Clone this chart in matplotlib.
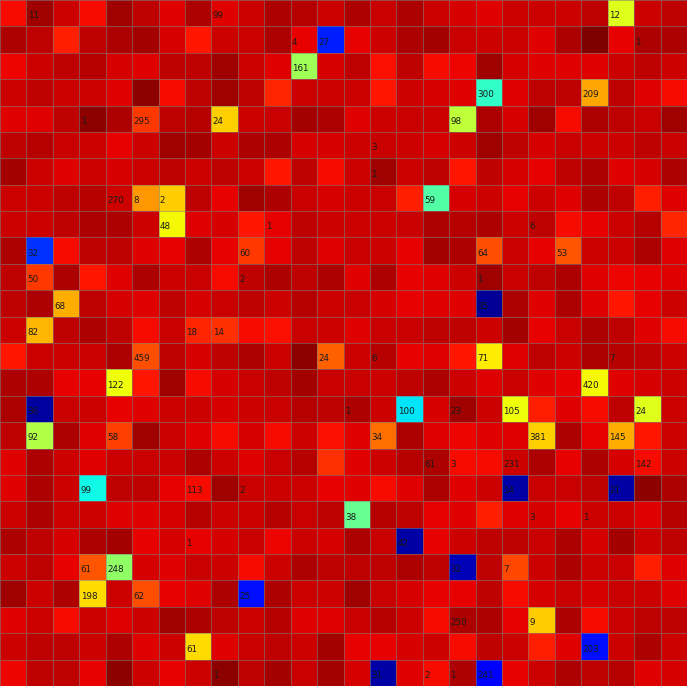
import numpy as np
import matplotlib
matplotlib.use("Agg")
import matplotlib.pyplot as plt

# colour value of each cell (0-100 on the jet scale), row by row from the top
grid_values = [
    [89.5, 97.2, 93.0, 89.5, 97.2, 94.4, 91.7, 95.8, 91.7, 93.0, 95.8, 95.1, 93.0, 95.8, 93.7, 95.8, 93.0, 92.4, 91.7, 93.0, 93.0, 93.0, 94.4, 62.0, 93.0, 94.4],
    [95.8, 94.4, 87.6, 94.4, 95.8, 96.5, 92.4, 88.5, 93.0, 93.0, 95.8, 91.0, 15.6, 91.0, 93.0, 95.8, 96.5, 93.7, 93.0, 93.0, 91.7, 95.8, 100.0, 91.0, 95.8, 95.8],
    [90.3, 93.0, 94.4, 95.1, 92.4, 91.7, 94.4, 94.4, 97.2, 93.0, 91.7, 54.4, 92.4, 94.4, 89.3, 94.4, 89.5, 90.3, 97.2, 92.4, 91.7, 91.7, 91.7, 93.0, 94.4, 93.0],
    [93.0, 94.4, 93.0, 93.0, 91.7, 98.6, 89.5, 94.4, 97.2, 94.4, 87.0, 93.0, 93.0, 93.0, 88.5, 93.0, 92.4, 91.7, 40.9, 91.7, 94.4, 94.4, 73.2, 94.4, 91.7, 89.5],
    [91.7, 91.7, 94.4, 98.6, 95.8, 85.1, 94.4, 95.1, 69.0, 93.0, 93.7, 96.5, 95.8, 91.7, 93.0, 93.7, 93.0, 58.0, 95.8, 92.4, 97.2, 89.5, 95.8, 94.4, 93.7, 97.2],
    [94.4, 95.1, 93.7, 93.0, 91.0, 93.0, 97.2, 96.5, 93.0, 95.8, 95.8, 92.4, 92.4, 93.0, 93.7, 93.0, 92.4, 93.0, 97.2, 94.4, 92.4, 93.7, 93.0, 93.0, 94.4, 93.7],
    [96.5, 93.0, 91.7, 93.0, 92.4, 93.0, 94.4, 93.0, 94.4, 93.0, 88.5, 94.4, 89.5, 93.0, 97.2, 93.0, 94.4, 88.5, 94.4, 92.4, 91.0, 94.4, 95.8, 91.7, 92.4, 95.8],
    [93.0, 93.0, 94.4, 95.1, 93.0, 74.8, 69.4, 94.4, 91.0, 97.2, 95.8, 93.7, 92.4, 93.0, 93.7, 87.6, 45.3, 92.4, 93.0, 91.0, 93.0, 91.7, 95.8, 94.4, 87.6, 91.7],
    [93.0, 93.0, 94.4, 95.8, 95.8, 93.0, 64.5, 91.7, 92.4, 88.5, 91.0, 94.4, 93.0, 93.0, 93.0, 93.7, 95.8, 95.1, 95.8, 93.0, 94.4, 89.5, 91.0, 93.0, 95.1, 87.0],
    [95.8, 17.2, 89.5, 94.4, 94.4, 91.7, 91.0, 95.8, 91.0, 85.1, 91.0, 94.4, 91.7, 93.7, 93.0, 91.0, 96.5, 95.8, 82.5, 93.7, 91.0, 81.7, 93.0, 93.0, 95.8, 91.7],
    [94.4, 85.1, 95.8, 88.5, 91.7, 95.8, 93.0, 93.7, 89.5, 94.4, 95.8, 94.4, 95.8, 91.7, 95.8, 91.0, 91.7, 93.0, 97.2, 93.7, 94.4, 95.8, 91.7, 90.3, 91.0, 91.7],
    [94.4, 95.8, 72.4, 94.4, 92.4, 91.7, 94.4, 92.4, 93.7, 94.4, 93.0, 95.1, 93.0, 93.7, 92.4, 91.0, 91.7, 91.7, 2.2, 95.8, 91.7, 95.8, 91.7, 88.5, 91.0, 93.0],
    [93.0, 71.5, 94.4, 95.8, 94.4, 89.5, 93.7, 87.0, 85.9, 89.5, 89.3, 93.7, 93.0, 91.7, 93.7, 93.7, 94.4, 94.4, 93.0, 96.5, 91.0, 93.7, 95.8, 94.4, 91.7, 89.5],
    [88.5, 93.0, 93.0, 93.7, 95.8, 82.5, 94.4, 92.4, 94.4, 95.8, 93.0, 98.6, 80.8, 93.0, 95.1, 91.0, 91.7, 88.5, 66.0, 91.7, 94.4, 93.0, 95.8, 95.1, 94.4, 93.0],
    [95.8, 95.8, 91.0, 91.0, 64.0, 88.5, 97.2, 89.5, 92.4, 93.7, 94.4, 96.5, 93.7, 93.7, 93.0, 94.4, 95.8, 93.0, 91.7, 93.7, 91.7, 91.0, 64.5, 91.7, 92.4, 93.0],
    [95.8, 2.8, 93.7, 93.0, 91.0, 91.7, 93.0, 93.0, 92.4, 93.0, 93.7, 95.1, 94.4, 95.8, 93.0, 35.0, 92.4, 97.2, 93.0, 64.0, 87.6, 91.7, 89.5, 94.4, 61.9, 93.0],
    [94.4, 56.4, 95.8, 91.7, 84.2, 97.2, 93.7, 91.7, 89.5, 92.4, 89.5, 93.0, 89.3, 91.7, 79.1, 95.8, 91.7, 90.3, 91.7, 91.7, 69.0, 95.8, 91.0, 72.4, 88.5, 93.0],
    [91.7, 95.8, 93.0, 91.7, 93.0, 93.7, 93.7, 95.8, 93.0, 91.7, 93.7, 95.1, 85.9, 91.7, 93.0, 95.1, 95.8, 89.5, 89.5, 93.0, 95.8, 91.0, 95.8, 92.4, 89.5, 93.0],
    [91.7, 95.8, 93.0, 37.0, 94.4, 94.4, 91.0, 89.5, 97.2, 93.7, 93.0, 93.0, 91.0, 91.7, 89.5, 91.7, 95.8, 91.7, 93.0, 3.5, 93.7, 93.7, 94.4, 3.5, 98.6, 95.8],
    [93.0, 95.8, 93.0, 93.0, 91.7, 91.7, 92.4, 95.1, 93.0, 93.0, 95.1, 93.7, 94.4, 47.4, 95.1, 94.4, 91.0, 91.7, 87.6, 91.7, 92.4, 91.0, 93.0, 93.0, 91.7, 95.1],
    [95.8, 94.4, 92.4, 95.8, 96.5, 91.0, 92.4, 91.0, 92.4, 93.7, 90.3, 93.0, 92.4, 95.8, 93.7, 3.5, 91.0, 93.0, 94.4, 94.4, 93.7, 95.8, 92.4, 96.5, 93.0, 94.4],
    [93.0, 94.4, 91.0, 81.7, 52.5, 92.4, 91.7, 93.7, 93.0, 89.5, 93.0, 95.8, 94.4, 94.4, 94.4, 95.8, 94.4, 4.9, 94.4, 83.4, 93.0, 95.8, 93.0, 93.7, 87.6, 91.7],
    [97.2, 93.0, 95.8, 67.6, 93.0, 82.5, 91.0, 91.7, 95.8, 14.0, 95.8, 93.0, 93.0, 97.2, 93.7, 92.4, 91.0, 91.0, 94.4, 89.5, 92.4, 93.7, 92.4, 93.7, 93.0, 91.7],
    [91.7, 93.0, 89.5, 93.0, 91.7, 93.0, 97.2, 95.8, 94.4, 93.0, 95.1, 91.7, 91.7, 93.7, 95.1, 93.0, 89.5, 95.8, 95.8, 91.0, 69.4, 95.8, 89.5, 93.7, 94.4, 94.4],
    [93.0, 94.4, 94.4, 93.0, 95.8, 91.7, 93.0, 67.6, 91.7, 93.7, 94.4, 93.0, 96.5, 91.0, 91.0, 92.4, 93.0, 89.5, 94.4, 93.7, 87.6, 91.7, 14.0, 93.0, 95.8, 93.0],
    [90.3, 94.4, 94.4, 91.0, 98.6, 93.0, 91.0, 93.0, 98.6, 94.4, 96.5, 93.7, 96.5, 92.4, 3.5, 91.7, 89.5, 95.8, 12.0, 91.0, 93.0, 95.8, 94.4, 95.1, 91.7, 92.4],
]

# annotated cells: row, column, label
label_rows = [0, 0, 0, 1, 1, 1, 2, 3, 3, 4, 4, 4, 4, 5, 6, 7, 7, 7, 7, 8, 8, 8,
              9, 9, 9, 9, 10, 10, 10, 11, 11, 12, 12, 12, 13, 13, 13, 13, 13,
              14, 14, 15, 15, 15, 15, 15, 15, 16, 16, 16, 16, 16, 17, 17, 17, 17,
              18, 18, 18, 18, 18, 19, 19, 19, 20, 20, 21, 21, 21, 21, 22, 22, 22,
              23, 23, 24, 24, 25, 25, 25, 25, 25]
label_cols = [1, 8, 23, 11, 12, 24, 11, 18, 22, 3, 5, 8, 17, 14, 14, 4, 5, 6, 16, 6, 10, 20,
              1, 9, 18, 21, 1, 9, 18, 2, 18, 1, 7, 8, 5, 12, 14, 18, 23,
              4, 22, 1, 13, 15, 17, 19, 24, 1, 4, 14, 20, 23, 16, 17, 19, 24,
              3, 7, 9, 19, 23, 13, 20, 22, 7, 15, 3, 4, 17, 19, 3, 5, 9,
              17, 20, 7, 22, 8, 14, 16, 17, 18]
label_text = ["11", "99", "12", "4", "27", "1", "161", "300", "209", "1", "295", "24", "98", "3", "1",
              "270", "8", "2", "59", "48", "1", "6",
              "32", "60", "64", "53", "50", "2", "1", "68", "35", "82", "18", "14",
              "459", "24", "6", "71", "7", "122", "420",
              "36", "1", "100", "23", "105", "24", "92", "58", "34", "381", "145",
              "61", "3", "231", "142", "99", "113", "2", "14", "21", "38", "3", "1",
              "1", "42", "61", "248", "32", "7", "198", "62", "25",
              "250", "9", "61", "203", "1", "31", "2", "1", "241"]

data = np.array(grid_values)
n_rows, n_cols = data.shape

fig = plt.figure(figsize=(6.87, 6.86), dpi=100)
ax = fig.add_axes([0, 0, 1, 1])
ax.pcolormesh(data, cmap="jet", vmin=0, vmax=100,
              edgecolors=(0.5, 0.5, 0.5, 0.55), linewidth=0.7)

for r, c, t in zip(label_rows, label_cols, label_text):
    ax.text(c + 0.05, r + 0.6, t, fontsize=6.3, color="#1a1a1a",
            ha="left", va="center")

ax.set_xlim(0, n_cols)
ax.set_ylim(n_rows, 0)
ax.set_axis_off()

fig.savefig("out.png", dpi=100)
